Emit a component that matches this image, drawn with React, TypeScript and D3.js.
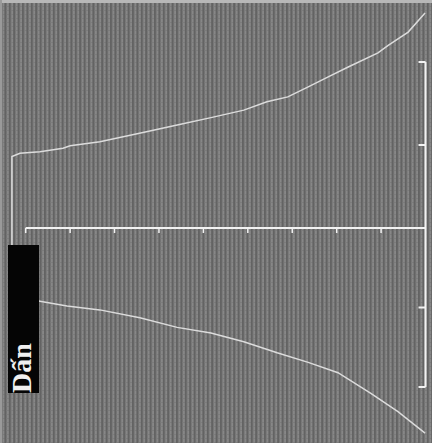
import { useRef, useEffect } from 'react';
import * as d3 from 'd3';

// Horizontal axis ticks (index units)
const xTicks = [0, 1, 2, 3, 4, 5, 6, 7, 8, 9];
// Right axis ticks
const yTicks = [-2, -1, 0, 1, 2];

// Upper curve (rising)
const upperX = [-0.31, -0.31, -0.13, 0.32, 0.84, 1.0, 1.67, 2.64, 3.41, 4.17, 4.91, 5.43, 5.9, 6.36, 6.81, 7.26, 7.93, 8.16, 8.61, 8.99];
const upperY = [-0.3, 0.86, 0.9, 0.92, 0.96, 0.99, 1.04, 1.15, 1.24, 1.33, 1.42, 1.52, 1.58, 1.7, 1.82, 1.94, 2.11, 2.2, 2.36, 2.59];

// Lower curve (falling)
const lowerX = [0.2, 0.32, 0.93, 1.67, 2.57, 3.41, 4.17, 4.91, 5.66, 6.36, 7.03, 7.77, 8.38, 8.99];
const lowerY = [-0.91, -0.92, -0.98, -1.03, -1.13, -1.25, -1.32, -1.43, -1.57, -1.69, -1.82, -2.08, -2.31, -2.58];

const label = 'Dấn';

export default function App() {
  const svgRef = useRef<SVGSVGElement>(null);

  useEffect(() => {
    if (!svgRef.current) return;
    const width = 432;
    const height = 443;

    d3.select(svgRef.current).selectAll('*').remove();
    const svg = d3.select(svgRef.current).attr('width', width).attr('height', height);

    // striped grey background
    const defs = svg.append('defs');
    const pat = defs
      .append('pattern')
      .attr('id', 'stripes')
      .attr('patternUnits', 'userSpaceOnUse')
      .attr('width', 4.4)
      .attr('height', 4);
    pat.append('rect').attr('width', 4.4).attr('height', 4).attr('fill', '#636363');
    pat.append('rect').attr('x', 2.2).attr('width', 2.2).attr('height', 4).attr('fill', '#878787');
    pat.append('rect').attr('x', 2.2).attr('y', 2).attr('width', 2.2).attr('height', 1).attr('fill', '#7c7c7c');

    svg.append('rect').attr('width', width).attr('height', height).attr('fill', 'url(#stripes)');
    svg.append('rect').attr('width', width).attr('height', 3).attr('fill', '#b8b8b8');
    svg.append('rect').attr('width', 2).attr('height', height).attr('fill', '#9a9a9a');

    const x = d3.scaleLinear().domain([0, 9]).range([25.7, 425.5]);
    const y = d3.scaleLinear().domain([-2, 0, 2]).range([387, 228, 62]);

    const lineColor = '#dcdcdc';
    const axisColor = '#f2f2f2';

    // horizontal axis
    svg
      .append('line')
      .attr('x1', x(0))
      .attr('x2', x(9))
      .attr('y1', y(0))
      .attr('y2', y(0))
      .attr('stroke', axisColor)
      .attr('stroke-width', 2);

    svg
      .append('g')
      .selectAll('line')
      .data(xTicks.slice(0, -1))
      .join('line')
      .attr('x1', (d) => x(d))
      .attr('x2', (d) => x(d))
      .attr('y1', y(0))
      .attr('y2', y(0) + 5)
      .attr('stroke', axisColor)
      .attr('stroke-width', 1.5);

    // right axis
    svg
      .append('line')
      .attr('x1', x(9))
      .attr('x2', x(9))
      .attr('y1', y(2))
      .attr('y2', y(-2))
      .attr('stroke', axisColor)
      .attr('stroke-width', 2);

    svg
      .append('g')
      .selectAll('line')
      .data(yTicks.filter((d) => d !== 0))
      .join('line')
      .attr('x1', x(9) - 7)
      .attr('x2', x(9))
      .attr('y1', (d) => y(d))
      .attr('y2', (d) => y(d))
      .attr('stroke', axisColor)
      .attr('stroke-width', 2);

    const path = d3.line();
    const upper = upperX.map((v, i) => [x(v), y(upperY[i])] as [number, number]);
    const lower = lowerX.map((v, i) => [x(v), y(lowerY[i])] as [number, number]);

    svg
      .append('path')
      .attr('d', path(upper))
      .attr('fill', 'none')
      .attr('stroke', lineColor)
      .attr('stroke-width', 1.5);

    svg
      .append('path')
      .attr('d', path(lower))
      .attr('fill', 'none')
      .attr('stroke', lineColor)
      .attr('stroke-width', 1.5);

    // black label box
    svg
      .append('rect')
      .attr('x', 8)
      .attr('y', 245)
      .attr('width', 31)
      .attr('height', 148)
      .attr('fill', '#050505');

    svg
      .append('text')
      .attr('transform', 'translate(31, 393) rotate(-90)')
      .attr('fill', '#f0f0f0')
      .attr('font-family', '"Liberation Serif", "DejaVu Serif", serif')
      .attr('font-weight', 'bold')
      .attr('font-size', '28px')
      .text(label);
  }, []);

  return (
    <div style={{ position: 'absolute', left: 0, top: 0 }}>
      <svg ref={svgRef} style={{ display: 'block' }} />
    </div>
  );
}
